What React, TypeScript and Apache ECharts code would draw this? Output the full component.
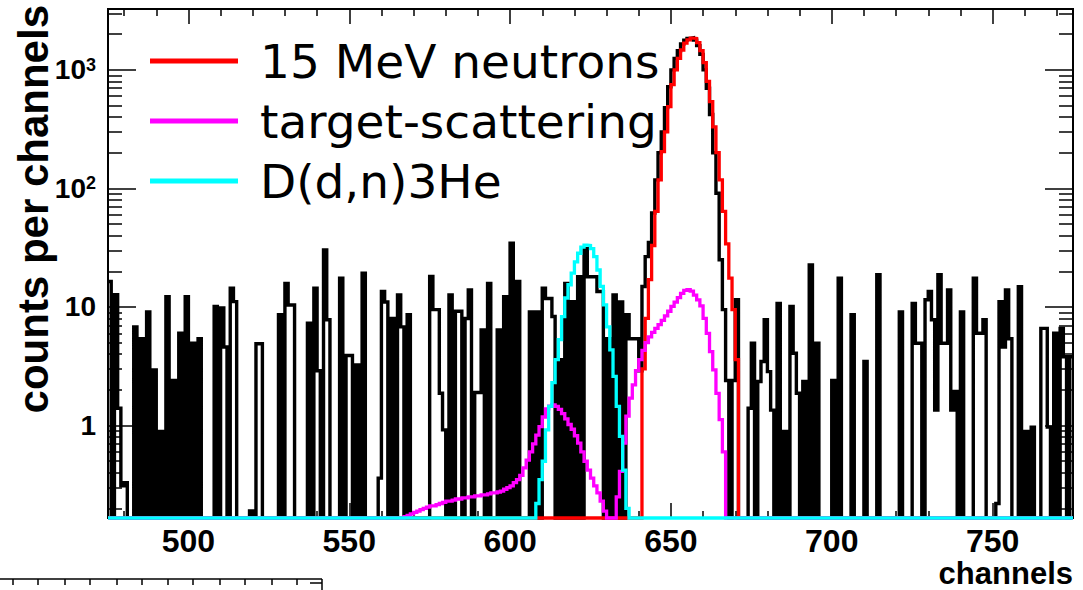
import React, { useEffect, useRef } from "react";
import * as echarts from "echarts";

// Axis ranges
const CH_MIN = 475;
const CH_MAX = 775;
const Y_MIN = 0.166;
const Y_MAX = 3260;

// Tick positions
const xLabelValues = [500, 550, 600, 650, 700, 750];
const xMinorTicks = [
  480, 490, 510, 520, 530, 540, 560, 570, 580, 590, 610, 620, 630, 640,
  660, 670, 680, 690, 710, 720, 730, 740, 760, 770,
];
const yDecades = [1, 10, 100, 1000];
const yMinorTicks = [
  0.2, 0.3, 0.4, 0.5, 0.6, 0.7, 0.8, 0.9,
  2, 3, 4, 5, 6, 7, 8, 9,
  20, 30, 40, 50, 60, 70, 80, 90,
  200, 300, 400, 500, 600, 700, 800, 900,
  2000, 3000,
];

// Measured spectrum, counts per channel for channels 475 ... 774
const measuredCounts = [
  16.4, 0, 12.7, 1.4, 0.31, 0.33, 0, 0, 6.8, 0,
  5.4, 0, 9.1, 0, 2.95, 0, 0.89, 0, 12.2, 0,
  2.4, 0, 6.0, 0, 12.2, 0, 4.95, 0, 5.4, 0,
  0, 0, 0, 10.1, 0, 9.8, 4.6, 0, 14.4, 11.1,
  0, 0, 0, 0, 0.19, 0, 4.9, 4.9, 0, 0,
  0, 0, 0, 8.6, 0, 15.8, 10.4, 10.4, 0, 0,
  0, 0, 7.3, 0, 14.4, 2.9, 0, 30.3, 7.8, 0,
  0, 0, 17.5, 0, 3.9, 3.9, 0, 3.25, 0, 19.3,
  0, 0, 0, 0, 0.36, 13.5, 11, 0, 8.0, 0,
  12.6, 6.8, 0, 8.6, 0, 0, 0, 0, 0, 0,
  18.1, 9.5, 9.5, 1.87, 0.92, 0, 12.6, 0, 9.2, 9.2,
  0, 8.0, 13.9, 0, 1.9, 1.9, 6.4, 0, 15.8, 0,
  0, 6.4, 0, 12.2, 0, 34.5, 0, 16.4, 0, 0,
  0, 9.1, 0, 9.1, 0, 14.4, 11.8, 11.8, 8.3, 0,
  3.6, 0, 15.8, 0, 11.1, 0, 18, 0, 31, 18,
  18, 18, 13.5, 13.5, 0, 5.4, 0, 12.6, 0, 11,
  0, 8.6, 5.4, 5.4, 5.4, 2.9, 14.9, 26.6, 35, 62,
  118, 200, 300, 480, 720, 1000, 1250, 1450, 1650, 1780,
  1840, 1860, 1780, 1600, 1350, 1000, 700, 420, 200, 91,
  25, 9.5, 2.4, 0, 2.4, 11.5, 0, 0, 0, 1.4,
  4.95, 0, 2.35, 3.47, 7.8, 2.85, 1.35, 0, 10.7, 0,
  0.89, 0, 10.1, 4.07, 1.87, 0, 2.35, 0, 22.6, 0,
  4.95, 0, 0, 0, 0, 2.4, 0, 17.5, 0, 0,
  0, 8.6, 0, 0, 0, 3.47, 0, 0, 0, 18.7,
  0, 0, 0, 0, 0, 0, 9.1, 0, 0, 0,
  10.7, 4.95, 4.95, 0, 11.5, 13.5, 7.8, 1.35, 18.7, 4.95,
  4.95, 13.9, 1.35, 1.94, 0, 9.1, 0, 0, 0, 17.5,
  6.0, 6.0, 7.8, 0, 0, 0, 0.22, 11.1, 4.6, 13.9,
  5.4, 0, 0, 14.8, 0, 0.89, 0, 0.97, 0, 0,
  6.6, 6.6, 0.97, 0, 6.0, 0, 6.6, 3.8, 0, 3.8,
];

// 15 MeV neutron response, channels 641 ... 670
const neutronsFirstChannel = 641;
const neutronsCounts = [
  3, 8, 17, 33, 64, 118, 204, 300, 490, 750,
  1000, 1250, 1470, 1680, 1790, 1850, 1840, 1700, 1450, 1150,
  800, 540, 330, 200, 118, 64, 34, 17.5, 9.5, 3.6,
];

// Target-scattering contribution, channels 567 ... 666
const scatteringFirstChannel = 567;
const scatteringCounts = [
  0.17, 0.175, 0.18, 0.185, 0.19, 0.195, 0.2, 0.205, 0.21, 0.21,
  0.215, 0.22, 0.225, 0.23, 0.23, 0.235, 0.24, 0.24, 0.245, 0.245,
  0.25, 0.25, 0.255, 0.255, 0.26, 0.26, 0.265, 0.27, 0.27, 0.275,
  0.28, 0.29, 0.3, 0.31, 0.33, 0.35, 0.38, 0.44, 0.51, 0.6,
  0.7, 0.83, 0.98, 1.18, 1.38, 1.46, 1.49, 1.45, 1.37, 1.26,
  1.14, 1.02, 0.93, 0.82, 0.71, 0.6, 0.5, 0.42, 0.36, 0.31,
  0.27, 0.23, 0.19, 0, 0, 0, 0.25, 0.41, 0.71, 1.2,
  1.7, 2.2, 2.9, 3.6, 4.3, 5.0, 5.6, 6.1, 6.6, 7.1,
  7.7, 8.4, 9.2, 10.1, 11.0, 12.0, 13.0, 13.8, 14.0, 13.6,
  12.6, 11.5, 10.2, 8.0, 6.0, 4.2, 2.95, 1.87, 1.12, 0.6,
];

// D(d,n)3He neutrons, channels 608 ... 636
const ddnFirstChannel = 608;
const ddnCounts = [
  0.22, 0.35, 0.5, 0.92, 1.45, 2.3, 3.6, 5.3, 8.3, 11.9,
  15.4, 19.3, 24, 28.4, 32, 33.3, 33, 31, 26.6, 20.5,
  14.9, 10.4, 6.8, 4.35, 2.6, 1.45, 0.81, 0.42, 0.2,
];

const FONT_AXIS = "Liberation Sans";

// Turns per-channel contents into step points over the full axis range.
// Empty channels sit on the lower edge of the log frame.
function histogramSteps(firstChannel: number, values: number[]): [number, number][] {
  const pts: [number, number][] = [];
  for (let ch = CH_MIN; ch < CH_MAX; ch++) {
    const i = ch - firstChannel;
    const v = i >= 0 && i < values.length ? values[i] : 0;
    pts.push([ch, Math.max(v, Y_MIN)]);
  }
  pts.push([CH_MAX, pts[pts.length - 1][1]]);
  return pts;
}

function stepSeries(name: string, color: string, width: number, data: [number, number][]) {
  return {
    type: "line",
    name,
    data,
    step: "end",
    symbol: "none",
    showSymbol: false,
    clip: false,
    silent: true,
    color,
    itemStyle: { color },
    lineStyle: { color, width, join: "miter", cap: "butt" },
    xAxisIndex: 0,
    yAxisIndex: 0,
  };
}

const tickLine = { color: "#000", width: 1.5 };

function xAxisDef(position: "top" | "bottom", ticks: number[], len: number, labels: boolean) {
  return {
    type: "value",
    position,
    min: CH_MIN,
    max: CH_MAX,
    axisLine: { show: false, onZero: false },
    splitLine: { show: false },
    axisTick: { show: true, inside: true, length: len, customValues: ticks, lineStyle: tickLine },
    axisLabel: labels
      ? {
          show: true,
          customValues: xLabelValues,
          margin: 9,
          color: "#000",
          fontFamily: FONT_AXIS,
          fontWeight: "bold",
          fontSize: 32,
          lineHeight: 28,
        }
      : { show: false },
  };
}

function yAxisDef(position: "left" | "right", ticks: number[], len: number, labels: boolean) {
  return {
    type: "log",
    logBase: 10,
    position,
    min: Y_MIN,
    max: Y_MAX,
    axisLine: { show: false, onZero: false },
    splitLine: { show: false },
    axisTick: { show: true, inside: true, length: len, customValues: ticks, lineStyle: tickLine },
    axisLabel: labels
      ? {
          show: true,
          customValues: yDecades,
          margin: 12,
          formatter: (v: number) => {
            const e = Math.round(Math.log10(v));
            if (e < 2) return `{b|${Math.round(v)}}`;
            return `{b|10}{s|${e}}`;
          },
          rich: {
            b: { fontFamily: FONT_AXIS, fontWeight: "bold", fontSize: 28, color: "#000" },
            s: {
              fontFamily: FONT_AXIS,
              fontWeight: "bold",
              fontSize: 18,
              color: "#000",
              verticalAlign: "top",
            },
          },
        }
      : { show: false },
  };
}

// Edge of the neighbouring panel visible below the frame
const neighbourTicksX = [13, 38, 65, 90, 117, 142, 168, 193, 220, 245, 272, 297];

export default function App() {
  const ref = useRef<HTMLDivElement>(null);

  useEffect(() => {
    if (!ref.current) return;
    const chart = echarts.init(ref.current, undefined, { renderer: "svg" });

    const neighbourGraphics: any[] = [
      { type: "line", shape: { x1: 0, y1: 579, x2: 322, y2: 579 }, style: { stroke: "#000", lineWidth: 1.5 } },
      { type: "line", shape: { x1: 322, y1: 579, x2: 322, y2: 590 }, style: { stroke: "#000", lineWidth: 1.5 } },
      { type: "line", shape: { x1: 310, y1: 583, x2: 322, y2: 583 }, style: { stroke: "#000", lineWidth: 1.5 } },
      ...neighbourTicksX.map((x) => ({
        type: "line",
        shape: { x1: x, y1: 579, x2: x, y2: 585 },
        style: { stroke: "#000", lineWidth: 1.5 },
      })),
    ];

    chart.setOption({
      animation: false,
      backgroundColor: "#ffffff",
      grid: {
        left: 108,
        top: 9,
        width: 965,
        height: 509,
        show: true,
        borderColor: "#000",
        borderWidth: 2,
        backgroundColor: "transparent",
      },
      legend: {
        data: ["15 MeV neutrons", "target-scattering", "D(d,n)3He"],
        orient: "vertical",
        left: 145,
        top: 31,
        icon: "rect",
        itemWidth: 88,
        itemHeight: 5,
        itemGap: 10,
        selectedMode: false,
        textStyle: {
          fontFamily: "DejaVu Sans",
          fontSize: 47,
          color: "#000",
          lineHeight: 50,
          padding: [0, 0, 0, 17],
        },
      },
      xAxis: [
        xAxisDef("bottom", xLabelValues, 15, true),
        xAxisDef("bottom", xMinorTicks, 7, false),
        xAxisDef("top", xLabelValues, 15, false),
        xAxisDef("top", xMinorTicks, 7, false),
      ],
      yAxis: [
        yAxisDef("left", yDecades, 28, true),
        yAxisDef("left", yMinorTicks, 14, false),
        yAxisDef("right", yDecades, 28, false),
        yAxisDef("right", yMinorTicks, 14, false),
      ],
      series: [
        stepSeries("data", "#000000", 3.4, histogramSteps(CH_MIN, measuredCounts)),
        stepSeries("15 MeV neutrons", "#ff0000", 3.3, histogramSteps(neutronsFirstChannel, neutronsCounts)),
        stepSeries("target-scattering", "#ff00ff", 3.3, histogramSteps(scatteringFirstChannel, scatteringCounts)),
        stepSeries("D(d,n)3He", "#00ffff", 3.3, histogramSteps(ddnFirstChannel, ddnCounts)),
      ],
      graphic: [
        {
          type: "text",
          x: 33,
          y: 5,
          rotation: Math.PI / 2,
          style: {
            text: "counts per channels",
            font: `bold 42px "${FONT_AXIS}"`,
            fill: "#000",
            align: "right",
            verticalAlign: "middle",
          },
        },
        {
          type: "text",
          x: 1073,
          y: 573,
          style: {
            text: "channels",
            font: `bold 31px "${FONT_AXIS}"`,
            lineHeight: 28,
            fill: "#000",
            align: "right",
            verticalAlign: "middle",
          },
        },
        ...neighbourGraphics,
      ],
    });

    return () => chart.dispose();
  }, []);

  return (
    <div
      ref={ref}
      style={{ position: "absolute", left: 0, top: 0, width: 1083, height: 590, background: "#fff" }}
    />
  );
}
